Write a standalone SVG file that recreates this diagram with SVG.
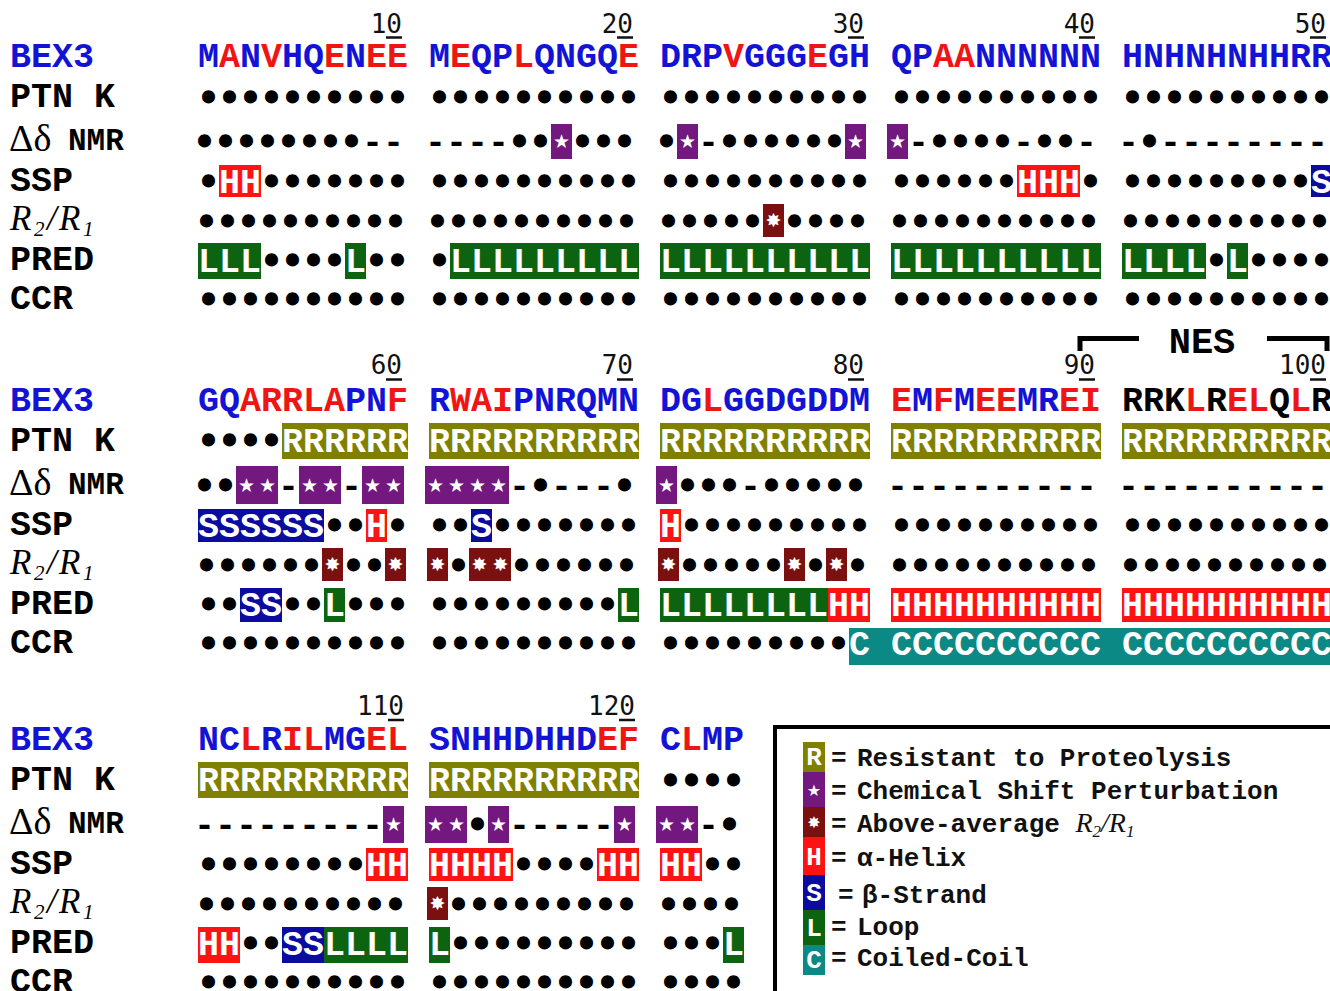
<svg xmlns="http://www.w3.org/2000/svg" width="1330" height="991" viewBox="0 0 1330 991">
<style>
.q{font-family:"Liberation Mono","Courier New",monospace;font-weight:bold;font-size:35px}
.s{font-family:"Liberation Mono","Courier New",monospace;font-weight:bold;font-size:35px;fill:#000;stroke:#000;stroke-width:3px}
.h{stroke:none}
.lb{font-family:"Liberation Mono","Courier New",monospace;font-weight:bold;font-size:35px;fill:#000}
.dl{font-family:"Liberation Serif","Times New Roman",serif;font-size:38px;fill:#000}
.nm{font-family:"Liberation Mono","Courier New",monospace;font-weight:bold;font-size:31px;fill:#000}
.it{font-family:"Liberation Serif","Times New Roman",serif;font-style:italic;font-size:35px;letter-spacing:2.5px;fill:#000}
.sub{font-size:21px}
.num{font-family:"DejaVu Sans Mono",monospace;font-size:26px;text-anchor:end;fill:#111}
.lg{font-family:"Liberation Mono","Courier New",monospace;font-weight:bold;font-size:26px;fill:#111}
.b{fill:#1313d6}.r{fill:#f01515}.k{fill:#000}.w{fill:#fff;stroke:none}
.sy{font-family:"DejaVu Sans",sans-serif;font-size:19px;fill:#fff;text-anchor:middle}
.cR{fill:#808000}.cP{fill:#73187f}.cB{fill:#7a1010}.cH{fill:#ff1212}.cS{fill:#0b0b9e}.cL{fill:#0d6410}.cC{fill:#0a8985}
.ul{stroke:#111;stroke-width:2.5;fill:none}
</style>
<rect width="1330" height="991" fill="#fff"/>

<!-- ================= BLOCK 1 (1-50) ================= -->
<g id="block1">
 <g id="b1-numbers">
  <text class="num" x="402" y="33">10</text>
  <text class="num" x="633" y="33">20</text>
  <text class="num" x="864" y="33">30</text>
  <text class="num" x="1095" y="33">40</text>
  <text class="num" x="1326" y="33">50</text>
  <path class="ul" d="M386 37.5h16M617 37.5h16M848 37.5h16M1079 37.5h16M1310 37.5h16"/>
 </g>
 <g id="b1-labels">
  <text class="lb b" x="10" y="67">BEX3</text>
  <text class="lb" x="10" y="107">PTN K</text>
  <text class="dl" x="9" y="151">Δδ</text>
  <text class="nm" x="68" y="150">NMR</text>
  <text class="lb" x="10" y="191">SSP</text>
  <text class="it" x="10" y="230">R<tspan class="sub" dy="6">2</tspan><tspan dy="-6">/R</tspan><tspan class="sub" dy="6">1</tspan></text>
  <text class="lb" x="10" y="270">PRED</text>
  <text class="lb" x="10" y="309">CCR</text>
 </g>
 <g id="b1-seq">
  <text class="q b" x="198" y="67">M<tspan class="r">A</tspan>N<tspan class="r">V</tspan>HQ<tspan class="r">E</tspan>N<tspan class="r">EE</tspan></text>
  <text class="q b" x="429" y="67">M<tspan class="r">E</tspan>QP<tspan class="r">L</tspan>QNGQ<tspan class="r">E</tspan></text>
  <text class="q b" x="660" y="67">DRP<tspan class="r">V</tspan>GGG<tspan class="r">E</tspan>GH</text>
  <text class="q b" x="891" y="67">QP<tspan class="r">AA</tspan>NNNNNN</text>
  <text class="q b" x="1122" y="67">HNHNHNHHRR</text>
 </g>
 <g id="b1-ptnk">
  <text class="s" x="198" y="109">••••••••••</text>
  <text class="s" x="429" y="109">••••••••••</text>
  <text class="s" x="660" y="109">••••••••••</text>
  <text class="s" x="891" y="109">••••••••••</text>
  <text class="s" x="1122" y="109">••••••••••</text>
 </g>
 <g id="b1-nmr">
  <rect class="cP" x="551" y="124" width="21" height="35"/>
  <rect class="cP" x="677" y="124" width="21" height="35"/>
  <rect class="cP" x="845" y="124" width="21" height="35"/>
  <rect class="cP" x="887" y="124" width="21" height="35"/>
  <text class="s" x="194" y="153">••••••••<tspan class="h">--</tspan></text>
  <text class="s" x="425" y="153"><tspan class="h">----</tspan>••</text>
  <text class="s" x="572" y="153">•••</text>
  <text class="s" x="656" y="153">•</text>
  <text class="s" x="698" y="153"><tspan class="h">-</tspan>••••••</text>
  <text class="s" x="908" y="153"><tspan class="h">-</tspan>••••<tspan class="h">-</tspan>••<tspan class="h">-</tspan></text>
  <text class="s" x="1118" y="153"><tspan class="h">-</tspan>•<tspan class="h">--------</tspan></text>
  <text class="sy" x="561.5" y="148">★</text>
  <text class="sy" x="687.5" y="148">★</text>
  <text class="sy" x="855.5" y="148">★</text>
  <text class="sy" x="897.5" y="148">★</text>
 </g>
 <g id="b1-ssp">
  <rect class="cH" x="219" y="165" width="42" height="32"/>
  <rect class="cH" x="1017" y="165" width="63" height="32"/>
  <rect class="cS" x="1311" y="165" width="21" height="32"/>
  <text class="s" x="198" y="193">•<tspan class="w">HH</tspan>•••••••</text>
  <text class="s" x="429" y="193">••••••••••</text>
  <text class="s" x="660" y="193">••••••••••</text>
  <text class="s" x="891" y="193">••••••<tspan class="w">HHH</tspan>•</text>
  <text class="s" x="1122" y="193">•••••••••<tspan class="w">S</tspan></text>
 </g>
 <g id="b1-r2r1">
  <rect class="cB" x="763" y="204" width="21" height="33"/>
  <text class="s" x="196" y="233">••••••••••</text>
  <text class="s" x="427" y="233">••••••••••</text>
  <text class="s" x="658" y="233">•••••</text>
  <text class="s" x="784" y="233">••••</text>
  <text class="s" x="889" y="233">••••••••••</text>
  <text class="s" x="1120" y="233">••••••••••</text>
  <text class="sy" x="773.5" y="227">✸</text>
 </g>
 <g id="b1-pred">
  <rect class="cL" x="198" y="243" width="63" height="36"/>
  <rect class="cL" x="345" y="243" width="21" height="36"/>
  <rect class="cL" x="450" y="243" width="189" height="36"/>
  <rect class="cL" x="660" y="243" width="210" height="36"/>
  <rect class="cL" x="891" y="243" width="210" height="36"/>
  <rect class="cL" x="1122" y="243" width="84" height="36"/>
  <rect class="cL" x="1227" y="243" width="21" height="36"/>
  <text class="s" x="198" y="272"><tspan class="w">LLL</tspan>••••<tspan class="w">L</tspan>••</text>
  <text class="s" x="429" y="272">•<tspan class="w">LLLLLLLLL</tspan></text>
  <text class="s w" x="660" y="272">LLLLLLLLLL</text>
  <text class="s w" x="891" y="272">LLLLLLLLLL</text>
  <text class="s" x="1122" y="272"><tspan class="w">LLLL</tspan>•<tspan class="w">L</tspan>••••</text>
 </g>
 <g id="b1-ccr">
  <text class="s" x="198" y="311">••••••••••</text>
  <text class="s" x="429" y="311">••••••••••</text>
  <text class="s" x="660" y="311">••••••••••</text>
  <text class="s" x="891" y="311">••••••••••</text>
  <text class="s" x="1122" y="311">••••••••••</text>
 </g>
</g>

<!-- NES bracket -->
<g id="nes">
 <path d="M1080 351V338.5H1139M1267 338.5H1327V351" fill="none" stroke="#000" stroke-width="5"/>
 <text class="lb" x="1202" y="353" text-anchor="middle" style="font-size:37px">NES</text>
</g>

<!-- ================= BLOCK 2 (51-100) ================= -->
<g id="block2" transform="translate(0,344)">
 <g id="b2-numbers">
  <text class="num" x="402" y="30">60</text>
  <text class="num" x="633" y="30">70</text>
  <text class="num" x="864" y="30">80</text>
  <text class="num" x="1095" y="30">90</text>
  <text class="num" x="1326" y="30">100</text>
  <path class="ul" d="M386 35.5h16M617 35.5h16M848 35.5h16M1079 35.5h16M1310 35.5h16"/>
 </g>
 <g id="b2-labels">
  <text class="lb b" x="10" y="67">BEX3</text>
  <text class="lb" x="10" y="107">PTN K</text>
  <text class="dl" x="9" y="151">Δδ</text>
  <text class="nm" x="68" y="150">NMR</text>
  <text class="lb" x="10" y="191">SSP</text>
  <text class="it" x="10" y="230">R<tspan class="sub" dy="6">2</tspan><tspan dy="-6">/R</tspan><tspan class="sub" dy="6">1</tspan></text>
  <text class="lb" x="10" y="270">PRED</text>
  <text class="lb" x="10" y="309">CCR</text>
 </g>
 <g id="b2-seq">
  <text class="q b" x="198" y="67">GQ<tspan class="r">ARRLA</tspan>PN<tspan class="r">F</tspan></text>
  <text class="q b" x="429" y="67">R<tspan class="r">WAI</tspan>PNRQMN</text>
  <text class="q b" x="660" y="67">DG<tspan class="r">L</tspan>GGDGDDM</text>
  <text class="q r" x="891" y="67">E<tspan class="b">M</tspan>F<tspan class="b">M</tspan>EE<tspan class="b">MR</tspan>EI</text>
  <text class="q k" x="1122" y="67">RRK<tspan class="r">L</tspan>R<tspan class="r">EL</tspan>Q<tspan class="r">L</tspan>R</text>
 </g>
 <g id="b2-ptnk">
  <rect class="cR" x="282" y="79" width="126" height="36"/>
  <rect class="cR" x="429" y="79" width="210" height="36"/>
  <rect class="cR" x="660" y="79" width="210" height="36"/>
  <rect class="cR" x="891" y="79" width="210" height="36"/>
  <rect class="cR" x="1122" y="79" width="210" height="36"/>
  <text class="s" x="198" y="108">••••<tspan class="w">RRRRRR</tspan></text>
  <text class="s w" x="429" y="108">RRRRRRRRRR</text>
  <text class="s w" x="660" y="108">RRRRRRRRRR</text>
  <text class="s w" x="891" y="108">RRRRRRRRRR</text>
  <text class="s w" x="1122" y="108">RRRRRRRRRR</text>
 </g>
 <g id="b2-nmr">
  <rect class="cP" x="236" y="122" width="42" height="38"/>
  <rect class="cP" x="299" y="122" width="42" height="38"/>
  <rect class="cP" x="362" y="122" width="42" height="38"/>
  <rect class="cP" x="425" y="122" width="84" height="38"/>
  <rect class="cP" x="656" y="122" width="21" height="38"/>
  <text class="s" x="194" y="153">••</text>
  <text class="s h" x="278" y="153">-</text>
  <text class="s h" x="341" y="153">-</text>
  <text class="s" x="509" y="153"><tspan class="h">-</tspan>•<tspan class="h">---</tspan>•</text>
  <text class="s" x="677" y="153">•••<tspan class="h">-</tspan>•••••</text>
  <text class="s h" x="887" y="153">----------</text>
  <text class="s h" x="1118" y="153">----------</text>
  <text class="sy" x="246.5" y="148">★</text><text class="sy" x="267.5" y="148">★</text>
  <text class="sy" x="309.5" y="148">★</text><text class="sy" x="330.5" y="148">★</text>
  <text class="sy" x="372.5" y="148">★</text><text class="sy" x="393.5" y="148">★</text>
  <text class="sy" x="435.5" y="148">★</text><text class="sy" x="456.5" y="148">★</text>
  <text class="sy" x="477.5" y="148">★</text><text class="sy" x="498.5" y="148">★</text>
  <text class="sy" x="666.5" y="148">★</text>
 </g>
 <g id="b2-ssp">
  <rect class="cS" x="198" y="165" width="126" height="33"/>
  <rect class="cH" x="366" y="165" width="21" height="33"/>
  <rect class="cS" x="471" y="165" width="21" height="33"/>
  <rect class="cH" x="660" y="165" width="21" height="33"/>
  <text class="s" x="198" y="193"><tspan class="w">SSSSSS</tspan>••<tspan class="w">H</tspan>•</text>
  <text class="s" x="429" y="193">••<tspan class="w">S</tspan>•••••••</text>
  <text class="s" x="660" y="193"><tspan class="w">H</tspan>•••••••••</text>
  <text class="s" x="891" y="193">••••••••••</text>
  <text class="s" x="1122" y="193">••••••••••</text>
 </g>
 <g id="b2-r2r1">
  <rect class="cB" x="322" y="204" width="21" height="33"/>
  <rect class="cB" x="385" y="204" width="21" height="33"/>
  <rect class="cB" x="427" y="204" width="21" height="33"/>
  <rect class="cB" x="469" y="204" width="42" height="33"/>
  <rect class="cB" x="658" y="204" width="21" height="33"/>
  <rect class="cB" x="784" y="204" width="21" height="33"/>
  <rect class="cB" x="826" y="204" width="21" height="33"/>
  <text class="s" x="196" y="233">••••••</text>
  <text class="s" x="343" y="233">••</text>
  <text class="s" x="448" y="233">•</text>
  <text class="s" x="511" y="233">••••••</text>
  <text class="s" x="679" y="233">•••••</text>
  <text class="s" x="805" y="233">•</text>
  <text class="s" x="847" y="233">•</text>
  <text class="s" x="889" y="233">••••••••••</text>
  <text class="s" x="1120" y="233">••••••••••</text>
  <text class="sy" x="332.5" y="227">✸</text><text class="sy" x="395.5" y="227">✸</text>
  <text class="sy" x="437.5" y="227">✸</text><text class="sy" x="479.5" y="227">✸</text>
  <text class="sy" x="500.5" y="227">✸</text><text class="sy" x="668.5" y="227">✸</text>
  <text class="sy" x="794.5" y="227">✸</text><text class="sy" x="836.5" y="227">✸</text>
 </g>
 <g id="b2-pred">
  <rect class="cS" x="240" y="244" width="42" height="34"/>
  <rect class="cL" x="324" y="244" width="21" height="34"/>
  <rect class="cL" x="618" y="244" width="21" height="34"/>
  <rect class="cL" x="660" y="244" width="168" height="34"/>
  <rect class="cH" x="828" y="244" width="42" height="34"/>
  <rect class="cH" x="891" y="244" width="210" height="34"/>
  <rect class="cH" x="1122" y="244" width="210" height="34"/>
  <text class="s" x="198" y="272">••<tspan class="w">SS</tspan>••<tspan class="w">L</tspan>•••</text>
  <text class="s" x="429" y="272">•••••••••<tspan class="w">L</tspan></text>
  <text class="s w" x="660" y="272">LLLLLLLLHH</text>
  <text class="s w" x="891" y="272">HHHHHHHHHH</text>
  <text class="s w" x="1122" y="272">HHHHHHHHHH</text>
 </g>
 <g id="b2-ccr">
  <rect class="cC" x="849" y="284" width="490" height="37"/>
  <text class="s" x="198" y="311">••••••••••</text>
  <text class="s" x="429" y="311">••••••••••</text>
  <text class="s" x="660" y="311">•••••••••<tspan class="w">C</tspan></text>
  <text class="s w" x="891" y="311">CCCCCCCCCC</text>
  <text class="s w" x="1122" y="311">CCCCCCCCCC</text>
 </g>
</g>

<!-- ================= BLOCK 3 (101-124) ================= -->
<g id="block3" transform="translate(0,683)">
 <g id="b3-numbers">
  <text class="num" x="404" y="32">110</text>
  <text class="num" x="635" y="32">120</text>
  <path class="ul" d="M388 37h16M619 37h16"/>
 </g>
 <g id="b3-labels">
  <text class="lb b" x="10" y="67">BEX3</text>
  <text class="lb" x="10" y="107">PTN K</text>
  <text class="dl" x="9" y="151">Δδ</text>
  <text class="nm" x="68" y="150">NMR</text>
  <text class="lb" x="10" y="191">SSP</text>
  <text class="it" x="10" y="230">R<tspan class="sub" dy="6">2</tspan><tspan dy="-6">/R</tspan><tspan class="sub" dy="6">1</tspan></text>
  <text class="lb" x="10" y="270">PRED</text>
  <text class="lb" x="10" y="309">CCR</text>
 </g>
 <g id="b3-seq">
  <text class="q b" x="198" y="67">NC<tspan class="r">L</tspan>R<tspan class="r">IL</tspan>MG<tspan class="r">EL</tspan></text>
  <text class="q b" x="429" y="67">SNHHDHHD<tspan class="r">EF</tspan></text>
  <text class="q b" x="660" y="67">C<tspan class="r">L</tspan>MP</text>
 </g>
 <g id="b3-ptnk">
  <rect class="cR" x="198" y="79" width="210" height="36"/>
  <rect class="cR" x="429" y="79" width="210" height="36"/>
  <text class="s w" x="198" y="108">RRRRRRRRRR</text>
  <text class="s w" x="429" y="108">RRRRRRRRRR</text>
  <text class="s" x="660" y="109">••••</text>
 </g>
 <g id="b3-nmr">
  <rect class="cP" x="383" y="123" width="21" height="37"/>
  <rect class="cP" x="425" y="123" width="42" height="37"/>
  <rect class="cP" x="488" y="123" width="21" height="37"/>
  <rect class="cP" x="614" y="123" width="21" height="37"/>
  <rect class="cP" x="656" y="123" width="42" height="37"/>
  <text class="s h" x="194" y="153">---------</text>
  <text class="s" x="467" y="153">•</text>
  <text class="s h" x="509" y="153">-----</text>
  <text class="s" x="698" y="153"><tspan class="h">-</tspan>•</text>
  <text class="sy" x="393.5" y="148">★</text>
  <text class="sy" x="435.5" y="148">★</text><text class="sy" x="456.5" y="148">★</text>
  <text class="sy" x="498.5" y="148">★</text><text class="sy" x="624.5" y="148">★</text>
  <text class="sy" x="666.5" y="148">★</text><text class="sy" x="687.5" y="148">★</text>
 </g>
 <g id="b3-ssp">
  <rect class="cH" x="366" y="165" width="42" height="33"/>
  <rect class="cH" x="429" y="165" width="84" height="33"/>
  <rect class="cH" x="597" y="165" width="42" height="33"/>
  <rect class="cH" x="660" y="165" width="42" height="33"/>
  <text class="s" x="198" y="193">••••••••<tspan class="w">HH</tspan></text>
  <text class="s" x="429" y="193"><tspan class="w">HHHH</tspan>••••<tspan class="w">HH</tspan></text>
  <text class="s" x="660" y="193"><tspan class="w">HH</tspan>••</text>
 </g>
 <g id="b3-r2r1">
  <rect class="cB" x="427" y="204" width="21" height="33"/>
  <text class="s" x="196" y="233">••••••••••</text>
  <text class="s" x="448" y="233">•••••••••</text>
  <text class="s" x="658" y="233">••••</text>
  <text class="sy" x="437.5" y="227">✸</text>
 </g>
 <g id="b3-pred">
  <rect class="cH" x="198" y="244" width="42" height="36"/>
  <rect class="cS" x="282" y="244" width="42" height="36"/>
  <rect class="cL" x="324" y="244" width="84" height="36"/>
  <rect class="cL" x="429" y="244" width="21" height="36"/>
  <rect class="cL" x="723" y="244" width="21" height="36"/>
  <text class="s" x="198" y="272"><tspan class="w">HH</tspan>••<tspan class="w">SSLLLL</tspan></text>
  <text class="s" x="429" y="272"><tspan class="w">L</tspan>•••••••••</text>
  <text class="s" x="660" y="272">•••<tspan class="w">L</tspan></text>
 </g>
 <g id="b3-ccr">
  <text class="s" x="198" y="311">••••••••••</text>
  <text class="s" x="429" y="311">••••••••••</text>
  <text class="s" x="660" y="311">••••</text>
 </g>
</g>

<!-- ================= LEGEND ================= -->
<g id="legend">
 <rect x="775" y="727" width="600" height="300" fill="#fff" stroke="#000" stroke-width="4"/>
 <rect class="cR" x="803" y="742" width="22" height="30"/>
 <rect class="cP" x="803" y="772" width="22" height="35"/>
 <rect class="cB" x="803" y="807" width="22" height="30"/>
 <rect class="cH" x="803" y="837" width="22" height="38"/>
 <rect class="cS" x="803" y="875" width="22" height="35"/>
 <rect class="cL" x="803" y="910" width="22" height="35"/>
 <rect class="cC" x="803" y="945" width="22" height="30"/>
 <text class="lg w" x="814" y="765" text-anchor="middle">R</text>
 <text class="sy" x="814" y="796" style="font-size:16px">★</text>
 <text class="sy" x="814" y="828" style="font-size:16px">✸</text>
 <text class="lg w" x="814" y="865" text-anchor="middle">H</text>
 <text class="lg w" x="814" y="901" text-anchor="middle">S</text>
 <text class="lg w" x="814" y="936" text-anchor="middle">L</text>
 <text class="lg w" x="814" y="968" text-anchor="middle">C</text>
 <text class="lg" x="831" y="766">=</text><text class="lg" x="857" y="766">Resistant to Proteolysis</text>
 <text class="lg" x="831" y="799">=</text><text class="lg" x="857" y="799">Chemical Shift Perturbation</text>
 <text class="lg" x="831" y="832">=</text><text class="lg" x="857" y="832">Above-average <tspan style="font-family:'Liberation Serif',serif;font-style:italic;font-weight:normal;font-size:28px">R<tspan style="font-size:17px" dy="5">2</tspan><tspan dy="-5">/R</tspan><tspan style="font-size:17px" dy="5">1</tspan></tspan></text>
 <text class="lg" x="831" y="866">=</text><text class="lg" x="857" y="866">α-Helix</text>
 <text class="lg" x="838" y="903">=</text><text class="lg" x="862" y="903">β-Strand</text>
 <text class="lg" x="831" y="935">=</text><text class="lg" x="857" y="935">Loop</text>
 <text class="lg" x="831" y="966">=</text><text class="lg" x="857" y="966">Coiled-Coil</text>
</g>
</svg>
